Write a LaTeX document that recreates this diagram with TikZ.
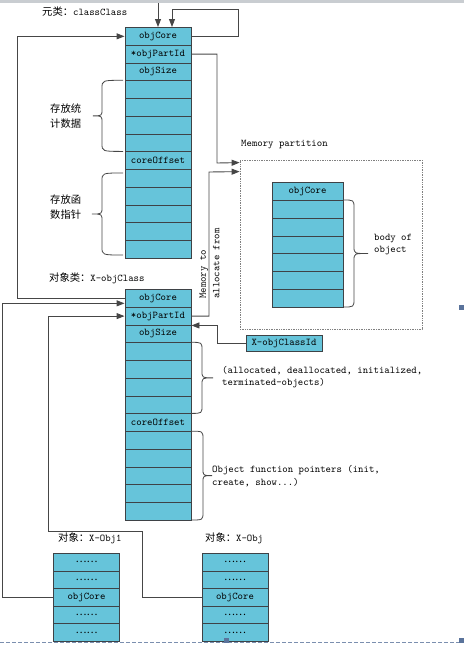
\documentclass[tikz,border=0pt]{standalone}
\usepackage{fontspec}
\newfontfamily\cjk{Noto Sans CJK SC}[Scale=1.0]
\usetikzlibrary{arrows.meta, positioning}
\definecolor{cellfill}{RGB}{102,196,218}
\definecolor{cellline}{RGB}{62,66,70}
\definecolor{wire}{RGB}{70,70,70}
\definecolor{handle}{RGB}{90,115,155}
\definecolor{barfill}{RGB}{201,205,209}
\newcommand{\membrace}[5]{%
  \draw[bracepen] (#1,#4) .. controls (#2,#4) .. (#2,{#4+8})
    -- (#2,{(#4+#5)/2-7}) .. controls (#2,{(#4+#5)/2}) .. (#3,{(#4+#5)/2})
    .. controls (#2,{(#4+#5)/2}) .. (#2,{(#4+#5)/2+7})
    -- (#2,{#5-8}) .. controls (#2,#5) .. (#1,#5);}
\tikzset{
  cell/.style={draw=cellline, fill=cellfill, line width=0.9pt, minimum width=66pt,
    minimum height=17.77pt, inner sep=0pt, anchor=north, font=\ttfamily\fontsize{10.3}{12}\selectfont},
  conn/.style={draw=wire, line width=0.9pt, -{Triangle[length=8pt,width=6pt]}},
  bracepen/.style={draw=wire, line width=0.8pt},
  note/.style={anchor=west, inner sep=0pt, align=left, font=\ttfamily\fontsize{10.3}{12.5}\selectfont},
  partition/.style={draw=gray, dash pattern=on 0.8pt off 0.9pt, line width=0.8pt,
    minimum width=182pt, minimum height=169pt, inner sep=0pt}
}

\begin{document}
\begin{tikzpicture}[x=1pt, y=-1pt]
    \useasboundingbox (0,0) rectangle (464,645);
    \fill[barfill] (0,0) rectangle (464,3);

    \foreach \name/\top in {cls/27, xcls/289}
    {
        \foreach \i/\txt in {0/objCore, 1/{*objPartId}, 2/objSize, 3/{}, 4/{}, 5/{}, 6/{}, 7/coreOffset, 8/{}, 9/{}, 10/{}, 11/{}, 12/{}}
            \node[cell] (\name\i) at (158,{\top+\i*17.77}) {\txt};
    }
    \node[partition] (mem) at (331,244.5) {};
    \foreach \i/\txt in {0/objCore, 1/{}, 2/{}, 3/{}, 4/{}, 5/{}, 6/{}}
        \node[cell, minimum width=71pt, minimum height=17.86pt] (part\i) at (307.5,{182+\i*17.86}) {\txt};
    \foreach \name/\x in {objA/86.5, objB/235}
    {
        \foreach \i/\txt in {0/{\cjk ……}, 1/{\cjk ……}, 2/objCore, 3/{\cjk ……}, 4/{\cjk ……}}
            \node[cell, minimum width=66pt, minimum height=17.6pt] (\name\i) at (\x,{553+\i*17.6}) {\txt};
    }
    \node[cell, anchor=center, minimum width=76pt, minimum height=16pt] (cid) at (284,343) {X-objClassId};

    \node[note] (clslabel) at (42,12) {{\cjk 元类：}classClass};
    \node[note] (xclslabel) at (49,278) {{\cjk 对象类：}X-objClass};
    \node[note] (memlabel) at (241,145) {Memory partition};
    \node[note] (objAlabel) at (58,538) {{\cjk 对象：}X-Obj1};
    \node[note] (objBlabel) at (205,538) {{\cjk 对象：}X-Obj};
    \node[note, font=\cjk\fontsize{10.3}{15}\selectfont] (statnote) at (50,116) {存放统\\计数据};
    \node[note, font=\cjk\fontsize{10.3}{15}\selectfont] (funcnote) at (50,207) {存放函\\数指针};
    \node[note] (bodynote) at (374,244.5) {body of\\object};
    \node[note] (statenote) at (222,377) {(allocated, deallocated, initialized,\\terminated-objects)};
    \node[note] (fptrnote) at (212,476) {Object function pointers (init,\\create, show...)};
    \node[note, rotate=90, anchor=north west, font=\ttfamily\fontsize{10.3}{13.5}\selectfont] (allocnote) at (199.5,299) {Memory to\\allocate from};

    \membrace{123}{102}{93}{80.3}{151.4}
    \membrace{123}{102}{92}{173}{255}
    \membrace{343}{354}{368}{200}{307}
    \membrace{191}{202}{213}{342.3}{413.4}
    \membrace{191}{203}{212}{431.2}{520}

    \coordinate (feed) at (158,3);
    \draw[conn] (feed) -- (cls0.north);
    \draw[conn] (cls0.east) -| (238,9) -| ([xshift=14pt]cls0.north);
    \draw[conn] (xcls0.west) -- ++(-107,0) |- (cls0.west);
    \draw[conn] (cls1.east) -| (217,163) -- ([yshift=-3pt]mem.north west);
    \draw[conn] (xcls1.east) -| (209,172) -- ([yshift=-12pt]mem.north west);
    \draw[conn] (cid.west) -- ++(-28,0) |- (xcls1.south east);
    \draw[conn] (objA2.west) -- ++(-51,0) |- ([yshift=-5pt]xcls0.west);
    \draw[conn] (objB2.west) -- ++(-59,0) -- ++(0,-66) -- ++(-94,0) |- (xcls1.west);

    \draw[handle!80, dash pattern=on 4pt off 2pt, line width=0.8pt] (0,642) -- (464,642);
    \fill[handle] (459,305) rectangle (464,310);
    \fill[handle] (459,638) rectangle (464,643);
    \fill[handle] (224,638) rectangle (229,643);
\end{tikzpicture}
\end{document}
